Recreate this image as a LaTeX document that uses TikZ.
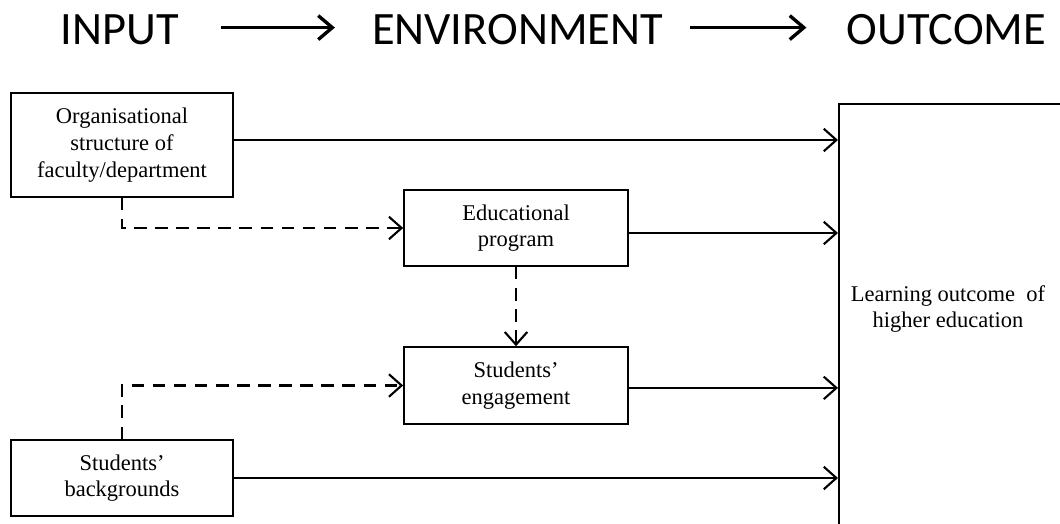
\documentclass[tikz,border=0pt]{standalone}
\usepackage{fontspec}
\setmainfont{Liberation Serif}
\newfontfamily\boxfont{Liberation Serif}
\newfontfamily\headfont{Carlito}
\usetikzlibrary{arrows.meta}
\tikzset{
  box/.style={draw, line width=1.1pt, align=center, inner sep=0pt,
    font=\boxfont\fontsize{16}{19}\selectfont},
  link/.style={line width=1.5pt, -{Straight Barb[length=9pt,width=16pt]}},
  dashlink/.style={link, dash pattern=on 9pt off 6pt},
  head/.style={inner sep=0pt, font=\headfont\fontsize{33}{36}\selectfont},
  headarrow/.style={line width=2.4pt, -{Straight Barb[length=10pt,width=17pt]}}
}
\begin{document}
\begin{tikzpicture}[x=0.025cm,y=-0.025cm]
\useasboundingbox (0,0) rectangle (1060,524);
\clip (0,0) rectangle (1060,524);
% header
\node[head] (hin) at (120,30) {INPUT};
\node[head] (henv) at (517.5,30) {ENVIRONMENT};
\node[head] (hout) at (946.5,30) {OUTCOME};
\draw[headarrow, shorten <=1.05cm, shorten >=0.92cm] ([yshift=0.06cm]hin.east) -- ([yshift=0.06cm]henv.west);
\draw[headarrow, shorten <=0.68cm, shorten >=1cm] ([yshift=0.06cm]henv.east) -- ([yshift=0.06cm]hout.west);
% boxes
\node[box, minimum width=5.55cm, minimum height=2.6cm] (org) at (122,145)
  {Organisational\\structure of\\faculty/department};
\node[box, minimum width=5.6cm, minimum height=1.9cm] (prog) at (516,228)
  {Educational\\program};
\node[box, minimum width=5.6cm, minimum height=1.925cm] (eng) at (516,385.5)
  {Students’\\engagement};
\node[box, minimum width=5.55cm, minimum height=1.9cm] (back) at (122,478)
  {Students’\\backgrounds};
\node[box, anchor=north west, minimum width=6cm, minimum height=11cm] (outc) at (838,103) {};
\node[box, draw=none] (outtxt) at (948,309) {Learning outcome\ \ of\\higher education};
% links
\draw[link] ([yshift=0.125cm]org.east) -- ([yshift=0.125cm]org.east -| outc.west);
\draw[link] ([yshift=-0.125cm]prog.east) -- ([yshift=-0.125cm]prog.east -| outc.west);
\draw[link] ([yshift=-0.06cm]eng.east) -- ([yshift=-0.06cm]eng.east -| outc.west);
\draw[link] (back) -- (back -| outc.west);
\draw[dashlink] (org.south) |- (prog.west);
\draw[dashlink] (prog) -- (eng);
\draw[dashlink] (back.north) |- (eng.west);
\end{tikzpicture}
\end{document}
